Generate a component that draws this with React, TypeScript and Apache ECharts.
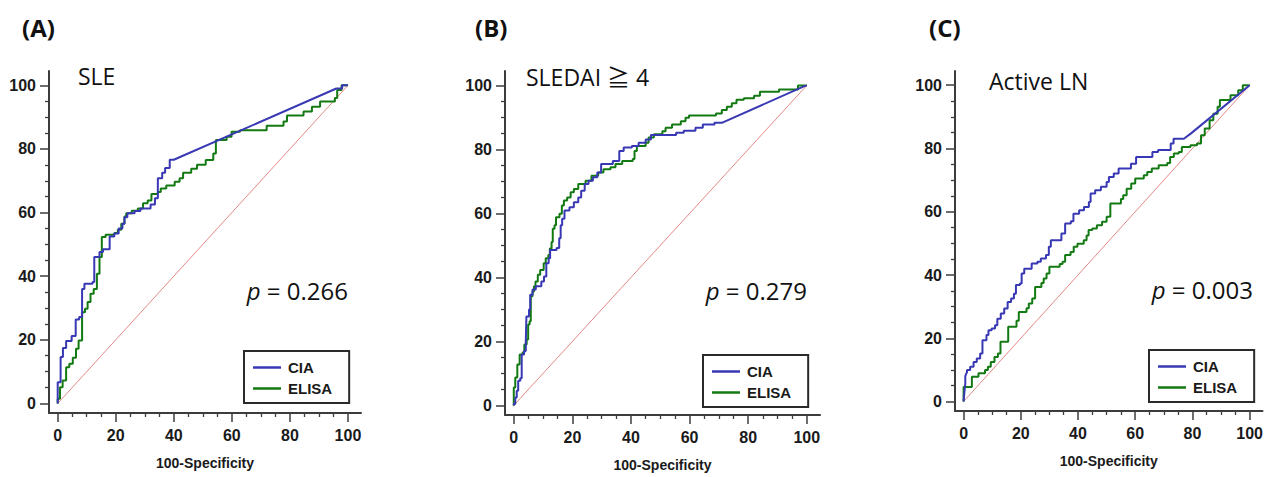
import React, { useEffect, useRef } from "react";
import * as echarts from "echarts";

// ---------- data ----------
const MAJOR_TICKS = [0, 20, 40, 60, 80, 100];
const MINOR_TICKS = [5, 10, 15, 25, 30, 35, 45, 50, 55, 65, 70, 75, 85, 90, 95];
const PANEL_LETTERS = ["(A)", "(B)", "(C)"];
const PANEL_TITLES = ["SLE", "SLEDAI \u2267 4", "Active LN"];
const P_VALUES = ["0.266", "0.279", "0.003"];
const SERIES_NAMES = ["CIA", "ELISA"];
const X_NAME = "100-Specificity";
const DIAG = [[0, 0], [100, 100]];

const A_CIA = [[0,0],[0,6.7],[1,6.7],[1,14.6],[1.8,14.6],[1.8,17.4],[2.9,17.4],[2.9,19.6],[4.8,19.6],[4.8,21.2],[6.2,21.2],[6.2,26.4],[7.4,26.4],[7.4,27.2],[8.4,27.2],[8.4,36],[9.2,36],[9.2,37.6],[12,37.6],[12,38.2],[12.6,38.2],[12.6,46],[14.4,46],[14.4,47.6],[15.6,47.6],[15.6,48.5],[17.9,48.5],[17.9,52.5],[19.5,52.5],[19.5,53.4],[21,53.4],[21,55],[22.3,55],[22.3,56.5],[23,56.5],[23,58.5],[24,58.5],[24,59.8],[26.5,59.8],[26.5,60.5],[28.5,60.5],[28.5,61.3],[32,61.3],[32,62.5],[33.5,62.5],[33.5,64.5],[34.5,64.5],[34.5,70.8],[36,70.8],[36,72.5],[37,72.5],[37,74],[38.6,74],[38.6,76.6],[40,76.6],[96,99],[98,99],[98,100],[100,100]];
const A_ELISA = [[0,0],[0,1.5],[0.8,1.5],[0.8,5.1],[1.7,5.1],[1.7,7.2],[2.9,7.2],[2.9,11.4],[4,11.4],[4,12.5],[5.2,12.5],[5.2,14.4],[6.3,14.4],[6.3,17.2],[7.2,17.2],[7.2,19.8],[8.4,19.8],[8.4,28.7],[9.4,28.7],[9.4,29.8],[10.3,29.8],[10.3,31.9],[11.3,31.9],[11.3,34.5],[12.4,34.5],[12.4,36],[13.5,36],[13.5,40.8],[14.4,40.8],[14.4,46],[15.2,46],[15.2,52.3],[16.5,52.3],[16.5,53],[19.5,53],[19.5,53.6],[20.7,53.6],[20.7,54.6],[21.9,54.6],[21.9,56.5],[23,56.5],[23,58.8],[23.6,58.8],[23.6,59.8],[25.5,59.8],[25.5,60.6],[27.6,60.6],[27.6,61.3],[29.4,61.3],[29.4,62.9],[31,62.9],[31,63.8],[32.3,63.8],[32.3,65.8],[34.5,65.8],[34.5,66.5],[35.5,66.5],[35.5,67.6],[37.4,67.6],[37.4,68.5],[40.3,68.5],[40.3,69.7],[42,69.7],[42,70.8],[43.2,70.8],[43.2,72.5],[46,72.5],[46,73.8],[48,73.8],[48,75],[51,75],[51,76.5],[53.6,76.5],[53.6,78.6],[54.5,78.6],[54.5,82.8],[58.2,82.8],[58.2,83.8],[59.9,83.8],[59.9,85.4],[62.8,85.4],[62.8,85.9],[72,85.9],[72,87.3],[77.8,87.3],[77.8,88.6],[79,88.6],[79,90.5],[84.7,90.5],[84.7,91.8],[87.6,91.8],[87.6,93.3],[90.4,93.3],[90.4,94.9],[95.5,94.9],[95.5,96],[96.3,96],[96.3,98.5],[97.8,98.5],[97.8,100],[100,100]];

const B_CIA = [[0,0],[0,0.4],[0.5,0.4],[0.5,2.5],[1,2.5],[1,4.6],[1.5,4.6],[1.5,7.7],[2.2,7.7],[2.2,8.5],[2.7,8.5],[2.7,15.9],[3.5,15.9],[3.5,17],[4.1,17],[4.1,20],[4.3,20],[4.3,27.8],[5.2,27.8],[5.2,30],[5.6,30],[5.6,34.6],[6.4,34.6],[6.4,36.2],[7.5,36.2],[7.5,37.2],[9.4,37.2],[9.4,38.7],[10.3,38.7],[10.3,40.3],[11.1,40.3],[11.1,44.4],[11.9,44.4],[11.9,46],[12.4,46],[12.4,48.6],[14.6,48.6],[14.6,49.2],[15.5,49.2],[15.5,52.2],[16,52.2],[16,56.3],[16.5,56.3],[16.5,58.3],[17.3,58.3],[17.3,60.9],[19,60.9],[19,61.9],[20.5,61.9],[20.5,63.5],[22,63.5],[22,65],[23,65],[23,67.1],[24.2,67.1],[24.2,69.2],[25.5,69.2],[25.5,70.2],[27,70.2],[27,71.3],[28.5,71.3],[28.5,72.8],[29.8,72.8],[29.8,75.4],[33.8,75.4],[33.8,76.4],[36,76.4],[36,79.5],[37.5,79.5],[37.5,80.6],[40.3,80.6],[40.3,81.1],[42.6,81.1],[42.6,82.1],[45,82.1],[45,83.1],[46.8,83.1],[46.8,84.5],[55.4,84.5],[55.4,85.2],[58,85.2],[58,85.8],[62,85.8],[62,86.8],[64.5,86.8],[64.5,87.8],[68.5,87.8],[68.5,88.3],[71,88.3],[99,99.7],[100,100]];
const B_ELISA = [[0,0],[0,5.6],[0.5,5.6],[0.5,8.7],[1.2,8.7],[1.2,12.8],[2,12.8],[2,15.9],[3,15.9],[3,16.5],[3.6,16.5],[3.6,19],[4.4,19],[4.4,20.6],[4.9,20.6],[4.9,25.3],[5.4,25.3],[5.4,26.3],[5.8,26.3],[5.8,34.1],[6.4,34.1],[6.4,35.6],[6.9,35.6],[6.9,37.2],[7.4,37.2],[7.4,38.7],[8.2,38.7],[8.2,40.8],[9,40.8],[9,42.3],[10.2,42.3],[10.2,44.4],[10.9,44.4],[10.9,46],[11.8,46],[11.8,47],[12.3,47],[12.3,49],[12.9,49],[12.9,51.1],[13.3,51.1],[13.3,55.2],[13.9,55.2],[13.9,56.3],[14.4,56.3],[14.4,58.8],[15.6,58.8],[15.6,59.9],[16.4,59.9],[16.4,62.5],[17.1,62.5],[17.1,64],[18.2,64],[18.2,65],[19.4,65],[19.4,66.6],[20.5,66.6],[20.5,67.6],[22,67.6],[22,69.2],[24.5,69.2],[24.5,70.2],[26.5,70.2],[26.5,71.8],[28.8,71.8],[28.8,72.8],[30.6,72.8],[30.6,73.8],[33,73.8],[33,74.4],[34.7,74.4],[34.7,75.4],[37,75.4],[37,76.4],[40.6,76.4],[40.6,77],[41.2,77],[41.2,79.5],[42,79.5],[42,81.1],[45,81.1],[45,82.1],[46,82.1],[46,83.7],[47.8,83.7],[47.8,84.7],[50.7,84.7],[50.7,85.7],[51.8,85.7],[51.8,86.8],[54,86.8],[54,87.8],[57,87.8],[57,88.8],[58.6,88.8],[58.6,89.9],[59.8,89.9],[59.8,90.6],[69,90.6],[69,91.2],[71,91.2],[71,92.3],[72.7,92.3],[72.7,93.3],[74.4,93.3],[74.4,94.4],[76,94.4],[76,95.5],[78.5,95.5],[78.5,96],[82,96],[82,96.8],[84,96.8],[84,98],[90.5,98],[90.5,98.7],[97,98.7],[97,100],[100,100]];

const C_CIA = [[0,0],[0.3,3],[0.6,5.7],[0.6,8],[1.2,9.4],[1.2,10],[2.3,10],[2.3,11],[3.5,11],[3.5,12.5],[4.6,12.5],[4.6,13.6],[5.8,13.6],[5.8,15.2],[6.6,15.2],[6.6,19.4],[8,19.4],[8,21],[8.7,21],[8.7,22.5],[9.8,22.5],[9.8,23.1],[11,23.1],[11,24.1],[11.8,24.1],[11.8,26.2],[13,26.2],[13,27.8],[14.2,27.8],[14.2,29.4],[15.4,29.4],[15.4,31.5],[16.6,31.5],[16.6,32.6],[17.6,32.6],[17.6,34.1],[18.3,34.1],[18.3,36.8],[19.7,36.8],[19.7,37.3],[20.3,37.3],[20.3,40.5],[21.2,40.5],[21.2,42],[23.8,42],[23.8,43.6],[25.8,43.6],[25.8,44.2],[27,44.2],[27,45.2],[28.8,45.2],[28.8,46.3],[29.8,46.3],[29.8,48.9],[30.5,48.9],[30.5,51],[34.2,51],[34.2,53.1],[35.5,53.1],[35.5,56.3],[37.5,56.3],[37.5,57],[38.4,57],[38.4,59.4],[40.4,59.4],[40.4,60.5],[42.1,60.5],[42.1,61.5],[43.8,61.5],[43.8,63.1],[44.4,63.1],[44.4,65.8],[46,65.8],[46,66.8],[48,66.8],[48,67.9],[50,67.9],[50,69.4],[50.8,69.4],[50.8,71],[52.5,71],[52.5,72.1],[54.2,72.1],[54.2,73.7],[58.5,73.7],[58.5,75.2],[60.3,75.2],[60.3,77.3],[66,77.3],[66,78.9],[68,78.9],[68,79.5],[72.4,79.5],[72.4,81.6],[73.4,81.6],[73.4,83.1],[77,83.1],[79.4,84.7],[100,100]];
const C_ELISA = [[0,0],[0,4.6],[2.9,4.6],[2.9,7.8],[5.2,7.8],[5.2,8.9],[7.5,8.9],[7.5,10],[8.5,10],[8.5,11],[9.5,11],[9.5,12.5],[10.8,12.5],[10.8,14.1],[12,14.1],[12,15.2],[12.9,15.2],[12.9,18.9],[15.6,18.9],[15.6,23.6],[18.5,23.6],[18.5,25.5],[19.3,25.5],[19.3,28.3],[22,28.3],[22,29.5],[22.8,29.5],[22.8,31],[24,31],[24,32.6],[25,32.6],[25,36.2],[27.2,36.2],[27.2,37.5],[28,37.5],[28,38.9],[29,38.9],[29,40.5],[30,40.5],[30,42.6],[33.6,42.6],[33.6,43.5],[34.6,43.5],[34.6,44.2],[35.5,44.2],[35.5,46.3],[37.4,46.3],[37.4,47.3],[38.5,47.3],[38.5,48.9],[39.8,48.9],[39.8,49.9],[42,49.9],[42,51],[43,51],[43,52.5],[43.7,52.5],[43.7,54.2],[45,54.2],[45,54.7],[46.6,54.7],[46.6,55.7],[48.4,55.7],[48.4,56.8],[50,56.8],[50,58.4],[51.3,58.4],[51.3,62.6],[55,62.6],[55,64],[55.8,64],[55.8,65.2],[57,65.2],[57,67.3],[58.6,67.3],[58.6,68.9],[60,68.9],[60,70.5],[63,70.5],[63,71.5],[64.2,71.5],[64.2,72.6],[65.8,72.6],[65.8,73.7],[68.2,73.7],[68.2,74.7],[71.2,74.7],[71.2,75.4],[72.2,75.4],[72.2,77.3],[73.5,77.3],[73.5,78.4],[75.2,78.4],[75.2,78.9],[76.3,78.9],[76.3,80.5],[79.3,80.5],[79.3,81],[81.6,81],[81.6,81.6],[83,81.6],[83,84.2],[84.3,84.2],[84.3,86.3],[86,86.3],[86,88.9],[87.3,88.9],[87.3,91],[88.8,91],[88.8,93.2],[89.6,93.2],[89.6,95.3],[93.3,95.3],[93.3,96.8],[96,96.8],[96,98.4],[97.6,98.4],[97.6,100],[100,100]];

const PANEL_DATA = [
  [A_CIA, A_ELISA],
  [B_CIA, B_ELISA],
  [C_CIA, C_ELISA],
];

// ---------- layout / style ----------
const GRIDS = [
  { left: 49, top: 71, width: 312, height: 342 },
  { left: 505, top: 71, width: 315, height: 346 },
  { left: 955, top: 71, width: 310, height: 340 },
];
const LETTER_POS = [[22, 27], [475, 27], [929, 27]];
const TITLE_POS = [[78, 76], [526, 77], [989, 81]];
const P_POS = [[348, 290], [807, 290], [1253, 289]];
const LEGEND_POS = [[244, 351], [703, 355], [1149, 350]];
const AX_MIN = -3;
const AX_MAX = 104.5;
const AX_COLOR = "#3c3c3c";
const COLORS = ["#3838b4", "#137a13"];
const DIAG_COLOR = "#e27a7a";
const LABEL_FONT = "'Liberation Sans', Arial, sans-serif";
const TEXT_FONT = "'Open Sans', 'Noto Sans', 'Noto Sans CJK JP', sans-serif";

function buildOption() {
  const xAxis: any[] = [];
  const yAxis: any[] = [];
  const series: any[] = [];
  const legend: any[] = [];
  const graphic: any[] = [];

  GRIDS.forEach((_, i) => {
    const labelStyle = {
      color: "#1a1a1a",
      fontSize: 16,
      fontWeight: "bold",
      fontFamily: LABEL_FONT,
    };
    xAxis.push({
      type: "value",
      gridIndex: i,
      min: AX_MIN,
      max: AX_MAX,
      position: "bottom",
      axisLine: { show: true, onZero: false, lineStyle: { color: AX_COLOR, width: 2 } },
      axisTick: { show: true, customValues: MAJOR_TICKS, length: 9, lineStyle: { color: AX_COLOR, width: 1.5 } },
      axisLabel: { show: true, customValues: MAJOR_TICKS, margin: 14, ...labelStyle },
      splitLine: { show: false },
      name: X_NAME,
      nameLocation: "middle",
      nameGap: 43,
      nameTextStyle: { color: "#1a1a1a", fontSize: 14, fontWeight: "bold", fontFamily: LABEL_FONT },
    });
    xAxis.push({
      type: "value",
      gridIndex: i,
      min: AX_MIN,
      max: AX_MAX,
      position: "bottom",
      axisLine: { show: false, onZero: false },
      axisTick: { show: true, customValues: MINOR_TICKS, length: 4, lineStyle: { color: AX_COLOR, width: 1.3 } },
      axisLabel: { show: false },
      splitLine: { show: false },
    });
    yAxis.push({
      type: "value",
      gridIndex: i,
      min: AX_MIN,
      max: AX_MAX,
      position: "left",
      axisLine: { show: true, onZero: false, lineStyle: { color: AX_COLOR, width: 2 } },
      axisTick: { show: true, customValues: MAJOR_TICKS, length: 9, lineStyle: { color: AX_COLOR, width: 1.5 } },
      axisLabel: { show: true, customValues: MAJOR_TICKS, margin: 13, ...labelStyle },
      splitLine: { show: false },
    });
    yAxis.push({
      type: "value",
      gridIndex: i,
      min: AX_MIN,
      max: AX_MAX,
      position: "left",
      axisLine: { show: false, onZero: false },
      axisTick: { show: true, customValues: MINOR_TICKS, length: 4, lineStyle: { color: AX_COLOR, width: 1.3 } },
      axisLabel: { show: false },
      splitLine: { show: false },
    });

    series.push({
      type: "line",
      name: "diagonal",
      xAxisIndex: 2 * i,
      yAxisIndex: 2 * i,
      data: DIAG,
      symbol: "none",
      silent: true,
      z: 1,
      lineStyle: { color: DIAG_COLOR, width: 0.9 },
    });
    PANEL_DATA[i].forEach((d, k) => {
      series.push({
        type: "line",
        name: SERIES_NAMES[k],
        xAxisIndex: 2 * i,
        yAxisIndex: 2 * i,
        data: d,
        symbol: "none",
        z: 3 - k,
        lineStyle: { color: COLORS[k], width: 2 },
        itemStyle: { color: COLORS[k] },
      });
    });

    legend.push({
      data: SERIES_NAMES.map((n) => ({ name: n, icon: "rect" })),
      orient: "vertical",
      left: LEGEND_POS[i][0],
      top: LEGEND_POS[i][1],
      padding: [9, 17, 7, 9],
      itemGap: 6,
      itemWidth: 28,
      itemHeight: 2.5,
      selectedMode: false,
      borderColor: "#2a2a2a",
      borderWidth: 2,
      borderRadius: 0,
      textStyle: {
        color: "#1a1a1a",
        fontSize: 15,
        fontWeight: "bold",
        fontFamily: LABEL_FONT,
        lineHeight: 14,
        padding: [0, 0, 0, 2],
      },
    });

    graphic.push({
      type: "text",
      x: LETTER_POS[i][0],
      y: LETTER_POS[i][1],
      style: {
        text: PANEL_LETTERS[i],
        fontSize: 24,
        fontWeight: "bold",
        fontFamily: TEXT_FONT,
        fill: "#111",
        align: "left",
        verticalAlign: "middle",
      },
    });
    graphic.push({
      type: "text",
      x: TITLE_POS[i][0],
      y: TITLE_POS[i][1],
      style: {
        text: PANEL_TITLES[i],
        fontSize: 23,
        fontFamily: TEXT_FONT,
        fill: "#111",
        align: "left",
        verticalAlign: "middle",
      },
    });
    graphic.push({
      type: "text",
      x: P_POS[i][0],
      y: P_POS[i][1],
      style: {
        text: "{i|p} = " + P_VALUES[i],
        fontSize: 24,
        fontFamily: TEXT_FONT,
        fill: "#111",
        align: "right",
        verticalAlign: "middle",
        rich: {
          i: { fontStyle: "italic", fontSize: 24, fontFamily: TEXT_FONT, fill: "#111" },
        },
      },
    });
  });

  return {
    animation: false,
    backgroundColor: "#ffffff",
    grid: GRIDS.map((g) => ({ ...g, containLabel: false })),
    xAxis,
    yAxis,
    series,
    legend,
    graphic,
  };
}

export default function App() {
  const ref = useRef<HTMLDivElement>(null);
  useEffect(() => {
    if (!ref.current) return;
    const chart = echarts.init(ref.current, undefined, { renderer: "svg" });
    chart.setOption(buildOption() as any);
    return () => chart.dispose();
  }, []);
  return (
    <div
      ref={ref}
      style={{ position: "absolute", left: 0, top: 0, width: 1266, height: 477, background: "#fff" }}
    />
  );
}
